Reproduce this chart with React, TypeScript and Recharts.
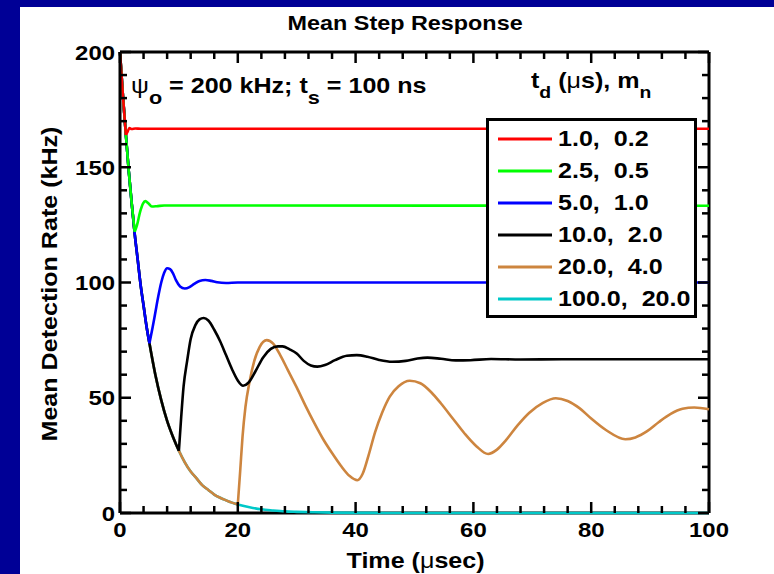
import React from 'react';
import { LineChart, Line, XAxis, YAxis, Legend, ReferenceLine, CartesianGrid } from 'recharts';

const FONT = '"Liberation Sans", Arial, Helvetica, sans-serif';
const SX = 1.14; // horizontal stretch of the lettering

// Tick values
const xTicks = [0, 4, 8, 12, 16, 20, 24, 28, 32, 36, 40, 44, 48, 52, 56, 60, 64, 68, 72, 76, 80, 84, 88, 92, 96, 100];
const xMajor = [0, 20, 40, 60, 80, 100];
const yTicks = [0, 10, 20, 30, 40, 50, 60, 70, 80, 90, 100, 110, 120, 130, 140, 150, 160, 170, 180, 190, 200];
const yMajor = [0, 50, 100, 150, 200];

// Series labels (t_d (us), m_n), colours, delays
const seriesNames = ['1.0,  0.2', '2.5,  0.5', '5.0,  1.0', '10.0,  2.0', '20.0,  4.0', '100.0,  20.0'];
const seriesColors = ['#ff0000', '#00ff00', '#0000ff', '#000000', '#cd853f', '#00c8c8'];
const seriesDelay = [1.0, 2.5, 5.0, 10.0, 20.0, 100.0];

// Series values (time in usec, rate in kHz)
const redT = [0, 0.5, 1.0, 1.3, 1.6, 2.0, 2.6, 3.5, 100];
const redV = [200, 181, 164, 165.5, 167.0, 166.6, 166.8, 166.7, 166.7];

const greenT = [0, 0.5, 1.0, 1.5, 2.0, 2.5, 2.9, 3.4, 3.9, 4.3, 4.8, 5.4, 6.2, 7.5, 100];
const greenV = [200, 181, 164, 148, 134, 122, 125, 130.5, 134.2, 135.3, 134.4, 133.0, 133.1, 133.4, 133.3];

const blueT = [0, 0.5, 1, 1.5, 2, 2.5, 3, 3.5, 4, 4.5, 5, 5.5, 6, 6.5, 7, 7.5, 8, 8.5, 9, 9.5, 10.2, 11, 11.8, 12.6, 13.5, 14.5, 15.5, 16.5, 18, 20, 100];
const blueV = [200, 181, 164, 148, 134, 121, 110, 99, 90, 81, 73.6, 80, 87, 94, 100, 104.2, 106.2, 105.8, 104, 101, 98.3, 97.4, 98, 99.4, 100.7, 101.1, 100.7, 100.1, 99.8, 100, 100];

const blackT = [0, 0.5, 1, 1.5, 2, 2.5, 3, 3.5, 4, 4.5, 5, 6, 7, 8, 9, 10, 10.4, 10.8, 11.4, 12, 12.8, 13.5, 14.2, 15, 16, 17, 18, 19, 20, 20.9, 21.8, 23, 24.3, 25.6, 26.8, 27.6, 28.8, 30, 31.2, 32.4, 33.5, 34.8, 36.5, 38.5, 40.2, 42, 44, 46.2, 48.5, 50.5, 52.2, 54.5, 57, 59.5, 63, 68, 75, 100];
const blackV = [200, 181, 164, 148, 134, 121, 110, 99, 90, 81, 73.6, 60, 49, 40, 33, 27, 42, 55, 66, 75.5, 81.5, 84, 84.6, 83.5, 79.5, 74.5, 68.5, 62.5, 57.5, 55.2, 56.5, 61.5, 67.5, 71.2, 72.3, 72.3, 71, 69.2, 66, 64, 63.5, 64.2, 66.3, 68.2, 68.5, 67.8, 66.4, 65.6, 66, 67, 67.4, 66.9, 66.2, 66.3, 66.8, 66.6, 66.7, 66.7];

const brownT = [0, 0.5, 1, 1.5, 2, 2.5, 3, 3.5, 4, 4.5, 5, 6, 7, 8, 9, 10, 11, 12, 13, 14, 15, 16, 17, 18, 19, 20, 20.4, 20.8, 21.3, 22, 22.8, 23.7, 24.9, 26, 27.2, 28.5, 30, 31.5, 33, 34.5, 36, 37.5, 39, 40.3, 41.2, 42.2, 43.3, 44.5, 45.8, 47.3, 49.2, 51, 52.8, 54.5, 56.5, 58.5, 60.5, 62.5, 64, 65.5, 67.5, 69.5, 71.8, 74, 76, 78, 80, 82.5, 85.8, 87.5, 89.5, 91.5, 93.5, 95.5, 97.5, 100];
const brownV = [200, 181, 164, 148, 134, 121, 110, 99, 90, 81, 73.6, 60, 49, 40, 33, 27, 22, 18, 15, 12, 10, 8, 6.6, 5.5, 4.5, 3.7, 18, 33, 46, 57, 66, 72, 75, 73.5, 68.5, 62, 54.5, 46.5, 39, 32, 26, 20.5, 16, 14.2, 17, 25, 35, 43.5, 50.5, 55, 57.4, 56.3, 52.5, 47.5, 41, 34.5, 29, 25.6, 27.5, 31.5, 38, 43.5, 47.8, 49.8, 48.6, 45.5, 41, 36, 32, 32.8, 35.5, 39.5, 43, 45.2, 45.8, 45];

const cyanT = [0, 0.5, 1, 1.5, 2, 2.5, 3, 3.5, 4, 4.5, 5, 6, 7, 8, 9, 10, 11, 12, 13, 14, 15, 16, 17, 18, 19, 20, 22, 24, 26, 28, 30, 33, 36, 40, 45, 50, 100];
const cyanV = [200, 181, 164, 148, 134, 121, 110, 99, 90, 81, 73.6, 60, 49, 40, 33, 27, 22, 18, 15, 12, 10, 8, 6.6, 5.5, 4.5, 3.7, 2.5, 1.6, 1.1, 0.7, 0.5, 0.3, 0.15, 0.07, 0.02, 0, 0];

const seriesT = [redT, greenT, blueT, blackT, brownT, cyanT];
const seriesV = [redV, greenV, blueV, blackV, brownV, cyanV];

const series = seriesNames.map((name, i) => {
  const pts = seriesT[i].map((t, j) => ({ t, v: seriesV[i][j] }));
  const td = seriesDelay[i];
  return {
    name,
    color: seriesColors[i],
    decay: pts.filter((p) => p.t <= td),
    resp: pts.filter((p) => p.t >= td),
  };
});

// Layout (plot box edges in px)
const CHART_W = 774;
const CHART_H = 574;
const PLOT_L = 120;
const PLOT_T = 52;
const PLOT_R = 709;
const PLOT_B = 513;

const MAJOR_LEN = 11;
const MINOR_LEN = 7;
const TICK_W = 2.5;
const TICK_FS = 21;

const BottomTick = (props: any) => {
  const { x, y, payload } = props;
  const major = xMajor.includes(payload.value);
  const len = major ? MAJOR_LEN : MINOR_LEN;
  return (
    <g>
      <line x1={x} y1={y} x2={x} y2={y - len} stroke="#000" strokeWidth={TICK_W} />
      <line x1={x} y1={PLOT_T} x2={x} y2={PLOT_T + len} stroke="#000" strokeWidth={TICK_W} />
      {major && (
        <text
          transform={`translate(${x},${y + 9}) scale(${SX},1)`}
          dy="0.72em"
          textAnchor="middle"
          fontSize={TICK_FS}
          fontWeight="bold"
          fill="#000"
          fontFamily={FONT}
        >
          {payload.value}
        </text>
      )}
    </g>
  );
};

const LeftTick = (props: any) => {
  const { x, y, payload } = props;
  const major = yMajor.includes(payload.value);
  const len = major ? MAJOR_LEN : MINOR_LEN;
  return (
    <g>
      <line x1={x} y1={y} x2={x + len} y2={y} stroke="#000" strokeWidth={TICK_W} />
      <line x1={PLOT_R} y1={y} x2={PLOT_R - len} y2={y} stroke="#000" strokeWidth={TICK_W} />
      {major && (
        <text
          transform={`translate(${x - 5},${y}) scale(${SX},1)`}
          dy="0.36em"
          textAnchor="end"
          fontSize={TICK_FS}
          fontWeight="bold"
          fill="#000"
          fontFamily={FONT}
        >
          {payload.value}
        </text>
      )}
    </g>
  );
};

const stretch = (origin: string): React.CSSProperties => ({
  display: 'inline-block',
  transform: `scaleX(${SX})`,
  transformOrigin: origin,
});

const LegendBox = () => (
  <div
    style={{
      boxSizing: 'border-box',
      width: 211,
      height: 200,
      border: '3px solid #000',
      background: '#fff',
      paddingTop: 2,
      fontFamily: FONT,
      fontWeight: 'bold',
      fontSize: 22,
      color: '#000',
    }}
  >
    {series.map((s) => (
      <div key={s.name} style={{ display: 'flex', alignItems: 'center', height: 32 }}>
        <svg width={63} height={6} style={{ display: 'block', flex: 'none' }}>
          <line x1={9} y1={3} x2={63} y2={3} stroke={s.color} strokeWidth={3} />
        </svg>
        <span style={{ ...stretch('left center'), whiteSpace: 'pre', marginLeft: 6, lineHeight: '32px' }}>{s.name}</span>
      </div>
    ))}
  </div>
);

const sub = (txt: string, size: number, drop: number) => (
  <span style={{ fontSize: size, position: 'relative', top: drop }}>{txt}</span>
);

const textBase: React.CSSProperties = {
  position: 'absolute',
  fontFamily: FONT,
  fontWeight: 'bold',
  color: '#000',
  whiteSpace: 'pre',
};

export default function App() {
  const lines: React.ReactNode[] = [];
  [...series].reverse().forEach((s) => {
    if (s.decay.length > 1)
      lines.push(
        <Line key={s.name + 'd'} name={s.name + ' d'} data={s.decay} dataKey="v" type="monotone" stroke={s.color} strokeWidth={2.6} dot={false} activeDot={false} isAnimationActive={false} />
      );
    if (s.resp.length > 1)
      lines.push(
        <Line key={s.name + 'r'} name={s.name} data={s.resp} dataKey="v" type="monotone" stroke={s.color} strokeWidth={2.6} dot={false} activeDot={false} isAnimationActive={false} />
      );
  });

  return (
    <div style={{ position: 'absolute', left: 0, top: 0, width: CHART_W, height: CHART_H, background: '#000096', overflow: 'hidden' }}>
      <div style={{ position: 'absolute', left: 20, top: 7, width: CHART_W - 20, height: CHART_H - 7, background: '#fff' }} />
      <div style={{ position: 'absolute', left: 0, top: 0 }}>
        <LineChart
          width={CHART_W}
          height={CHART_H}
          margin={{ top: PLOT_T, right: CHART_W - PLOT_R, bottom: 0, left: 0 }}
        >
          <CartesianGrid vertical={false} horizontalPoints={[PLOT_B]} stroke="#000" strokeWidth={3} strokeDasharray="" />
          <XAxis
            dataKey="t"
            type="number"
            domain={[0, 100]}
            ticks={xTicks}
            interval={0}
            height={CHART_H - PLOT_B}
            tickSize={0}
            tickMargin={0}
            tickLine={false}
            tick={<BottomTick />}
            axisLine={false}
          />
          <YAxis
            type="number"
            domain={[0, 200]}
            ticks={yTicks}
            interval={0}
            width={PLOT_L}
            tickSize={0}
            tickMargin={0}
            tickLine={false}
            tick={<LeftTick />}
            axisLine={{ stroke: '#000', strokeWidth: 3 }}
          />
          <ReferenceLine y={200} stroke="#000" strokeWidth={3} />
          <ReferenceLine x={100} stroke="#000" strokeWidth={3} />
          {lines}
          <Legend
            layout="vertical"
            align="center"
            verticalAlign="middle"
            content={<LegendBox />}
            wrapperStyle={{ left: 486, top: 118, width: 211, height: 200 }}
          />
        </LineChart>
      </div>
      <div style={{ ...textBase, left: 205, top: 12.5, width: 400, textAlign: 'center', fontSize: 20.5, lineHeight: '20.5px' }}>
        <span style={stretch('center')}>Mean Step Response</span>
      </div>
      <div
        style={{
          ...textBase,
          left: 50 - 200,
          top: 284 - 11,
          width: 400,
          height: 22,
          lineHeight: '22px',
          textAlign: 'center',
          fontSize: 22,
          transform: `rotate(-90deg) scaleX(${SX})`,
        }}
      >
        Mean Detection Rate (kHz)
      </div>
      <div style={{ ...textBase, left: 216, top: 549.5, width: 400, textAlign: 'center', fontSize: 22, lineHeight: '22px' }}>
        <span style={stretch('center')}>
          Time (<span style={{ fontWeight: 'normal' }}>μ</span>sec)
        </span>
      </div>
      <div style={{ ...textBase, left: 131, top: 74.5, fontSize: 22, lineHeight: '22px' }}>
        <span style={stretch('left center')}>
          <span style={{ fontWeight: 'normal' }}>ψ</span>
          {sub('o', 19, 11)}
          {' = 200 kHz; t'}
          {sub('s', 19, 11)}
          {' = 100 ns'}
        </span>
      </div>
      <div style={{ ...textBase, left: 531, top: 69.5, fontSize: 22, lineHeight: '22px' }}>
        <span style={stretch('left center')}>
          {'t'}
          {sub('d', 17, 10)}
          {' ('}
          <span style={{ fontWeight: 'normal' }}>μ</span>
          {'s), m'}
          {sub('n', 17, 10)}
        </span>
      </div>
    </div>
  );
}
